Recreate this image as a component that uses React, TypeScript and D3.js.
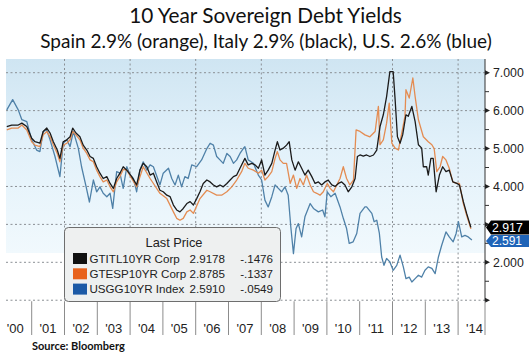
import React from "react";
import * as d3 from "d3";

type Pt = [number, number];

const title = "10 Year Sovereign Debt Yields";
const subtitle = "Spain 2.9% (orange), Italy 2.9% (black), U.S. 2.6% (blue)";
const source = "Source:  Bloomberg";

const years = d3.range(2000, 2015);
const yearLabels = years.map((yr) => "'" + String(yr).slice(2));
const yMajor = [1, 2, 3, 4, 5, 6, 7];
const yLabelled = [2, 4, 5, 6, 7];
const yMinor = [1.5, 2.5, 3.5, 4.5, 5.5, 6.5];

const italy: Pt[] = [
  [2000.24, 5.58], [2000.39, 5.62], [2000.59, 5.62], [2000.7, 5.67], [2000.85, 5.58], [2001.0, 5.27], [2001.1, 5.18],
  [2001.25, 5.14], [2001.35, 5.45], [2001.46, 5.54], [2001.56, 5.41], [2001.66, 5.18], [2001.78, 4.96], [2001.86, 4.74],
  [2001.96, 5.18], [2002.07, 5.23], [2002.17, 5.31], [2002.25, 5.54], [2002.35, 5.41], [2002.47, 5.31], [2002.57, 5.09],
  [2002.68, 4.96], [2002.78, 4.79], [2002.88, 4.74], [2002.98, 4.52], [2003.08, 4.35], [2003.18, 4.21], [2003.29, 4.26],
  [2003.39, 4.08], [2003.49, 3.95], [2003.59, 4.21], [2003.69, 4.35], [2003.79, 4.52], [2003.9, 4.43], [2004.05, 4.26],
  [2004.2, 4.04], [2004.3, 4.43], [2004.4, 4.61], [2004.51, 4.52], [2004.61, 4.3], [2004.71, 4.35], [2004.81, 4.12],
  [2004.91, 3.9], [2005.01, 3.86], [2005.12, 3.77], [2005.22, 3.73], [2005.32, 3.51], [2005.42, 3.38], [2005.52, 3.33],
  [2005.62, 3.42], [2005.73, 3.55], [2005.83, 3.6], [2005.93, 3.51], [2006.03, 3.68], [2006.13, 3.86], [2006.23, 4.08],
  [2006.34, 4.17], [2006.44, 4.12], [2006.54, 4.04], [2006.64, 3.99], [2006.74, 4.04], [2006.84, 3.99], [2006.95, 4.08],
  [2007.05, 4.17], [2007.15, 4.26], [2007.25, 4.3], [2007.35, 4.48], [2007.5, 4.74], [2007.6, 4.57], [2007.71, 4.61],
  [2007.81, 4.57], [2007.91, 4.48], [2008.01, 4.7], [2008.11, 4.3], [2008.21, 4.43], [2008.32, 4.61], [2008.42, 4.96],
  [2008.49, 5.18], [2008.57, 4.96], [2008.67, 5.01], [2008.77, 5.09], [2008.85, 5.18], [2008.93, 4.7], [2009.03, 4.43],
  [2009.13, 4.65], [2009.23, 4.48], [2009.33, 4.3], [2009.43, 4.43], [2009.54, 4.26], [2009.64, 4.08], [2009.74, 4.12],
  [2009.84, 4.04], [2009.94, 4.12], [2010.04, 4.17], [2010.15, 4.04], [2010.25, 4.0], [2010.35, 4.08], [2010.45, 4.12],
  [2010.55, 4.04], [2010.65, 3.86], [2010.76, 3.99], [2010.86, 4.21], [2010.93, 4.79], [2011.01, 4.83], [2011.11, 4.8],
  [2011.21, 4.83], [2011.31, 4.79], [2011.42, 4.83], [2011.52, 4.96], [2011.62, 5.58], [2011.72, 5.89], [2011.82, 6.37],
  [2011.92, 7.03], [2012.02, 7.03], [2012.08, 6.29], [2012.15, 5.31], [2012.23, 5.14], [2012.31, 5.36], [2012.41, 5.89],
  [2012.48, 5.85], [2012.59, 6.11], [2012.69, 5.71], [2012.79, 5.1], [2012.89, 5.01], [2012.94, 4.52], [2013.04, 4.52],
  [2013.09, 4.3], [2013.17, 4.74], [2013.24, 4.74], [2013.33, 3.86], [2013.43, 4.3], [2013.53, 4.52], [2013.63, 4.39],
  [2013.73, 4.43], [2013.84, 4.12], [2013.96, 4.08], [2014.04, 4.04], [2014.16, 3.6], [2014.26, 3.29], [2014.39, 2.92],
];

const spain: Pt[] = [
  [2000.24, 5.49], [2000.39, 5.54], [2000.59, 5.54], [2000.7, 5.62], [2000.85, 5.49], [2001.0, 5.18], [2001.1, 5.09],
  [2001.25, 5.05], [2001.35, 5.36], [2001.46, 5.45], [2001.56, 5.31], [2001.66, 5.1], [2001.78, 4.87], [2001.86, 4.65],
  [2001.96, 5.09], [2002.07, 5.14], [2002.17, 5.23], [2002.25, 5.45], [2002.35, 5.36], [2002.47, 5.23], [2002.57, 5.01],
  [2002.68, 4.87], [2002.78, 4.7], [2002.88, 4.65], [2002.98, 4.43], [2003.08, 4.26], [2003.18, 4.12], [2003.29, 4.17],
  [2003.39, 3.99], [2003.49, 3.86], [2003.59, 4.12], [2003.69, 4.26], [2003.79, 4.45], [2003.9, 4.43], [2004.2, 3.99],
  [2004.4, 4.52], [2004.61, 4.21], [2004.91, 3.82], [2005.12, 3.68], [2005.32, 3.33], [2005.42, 3.16], [2005.52, 3.11],
  [2005.62, 3.16], [2005.73, 3.33], [2005.83, 3.38], [2005.93, 3.29], [2006.13, 3.68], [2006.34, 3.9], [2006.44, 3.86],
  [2006.64, 3.77], [2006.79, 3.77], [2006.95, 3.86], [2007.1, 3.99], [2007.25, 4.17], [2007.4, 4.39], [2007.5, 4.61],
  [2007.6, 4.48], [2007.76, 4.43], [2007.91, 4.35], [2008.01, 4.43], [2008.11, 4.17], [2008.21, 4.26], [2008.32, 4.39],
  [2008.42, 4.74], [2008.49, 4.92], [2008.57, 4.7], [2008.67, 4.61], [2008.77, 4.61], [2008.88, 4.08], [2008.98, 4.3],
  [2009.08, 3.95], [2009.18, 4.21], [2009.28, 4.04], [2009.38, 4.3], [2009.49, 4.04], [2009.59, 3.86], [2009.69, 3.82],
  [2009.79, 3.77], [2009.89, 3.86], [2010.01, 4.08], [2010.1, 3.95], [2010.2, 3.86], [2010.3, 4.04], [2010.4, 4.21],
  [2010.5, 4.52], [2010.6, 4.21], [2010.7, 4.04], [2010.81, 4.17], [2010.89, 5.49], [2011.01, 5.45], [2011.16, 5.36],
  [2011.31, 5.31], [2011.47, 5.45], [2011.57, 6.11], [2011.62, 5.1], [2011.72, 5.23], [2011.82, 5.67], [2011.9, 6.2],
  [2011.98, 5.14], [2012.08, 5.01], [2012.18, 4.96], [2012.28, 5.4], [2012.38, 5.85], [2012.41, 6.55], [2012.51, 6.33],
  [2012.62, 6.86], [2012.69, 6.37], [2012.79, 5.76], [2012.94, 5.31], [2013.09, 5.18], [2013.2, 5.1], [2013.27, 5.0],
  [2013.35, 4.39], [2013.45, 4.52], [2013.53, 4.79], [2013.63, 4.7], [2013.73, 4.48], [2013.84, 4.12], [2013.96, 4.08],
  [2014.04, 4.08], [2014.16, 3.55], [2014.26, 3.24], [2014.39, 2.88],
];

const us: Pt[] = [
  [2000.24, 6.02], [2000.42, 6.29], [2000.59, 6.02], [2000.7, 5.76], [2000.85, 5.71], [2001.0, 5.23], [2001.15, 4.96],
  [2001.25, 4.92], [2001.35, 5.45], [2001.46, 5.49], [2001.56, 5.23], [2001.71, 4.79], [2001.86, 4.26], [2001.96, 5.14],
  [2002.07, 5.23], [2002.17, 5.05], [2002.27, 5.45], [2002.42, 5.01], [2002.52, 4.52], [2002.66, 3.99], [2002.76, 3.59],
  [2002.88, 4.17], [2002.98, 3.86], [2003.08, 3.99], [2003.18, 3.82], [2003.29, 3.73], [2003.39, 3.82], [2003.47, 3.42],
  [2003.59, 4.39], [2003.69, 4.35], [2003.79, 3.95], [2003.9, 4.52], [2004.0, 4.3], [2004.1, 4.21], [2004.2, 3.86],
  [2004.3, 4.43], [2004.4, 4.65], [2004.51, 4.43], [2004.61, 4.57], [2004.71, 4.52], [2004.91, 4.04], [2005.01, 4.35],
  [2005.17, 4.48], [2005.27, 4.21], [2005.37, 4.04], [2005.47, 4.3], [2005.57, 3.99], [2005.67, 4.26], [2005.77, 4.21],
  [2005.88, 4.57], [2006.03, 4.52], [2006.18, 4.7], [2006.34, 5.0], [2006.44, 5.14], [2006.54, 5.09], [2006.64, 4.79],
  [2006.74, 4.7], [2006.84, 4.61], [2006.95, 4.87], [2007.05, 4.79], [2007.15, 4.61], [2007.25, 4.7], [2007.35, 4.87],
  [2007.45, 5.0], [2007.5, 5.05], [2007.6, 4.7], [2007.76, 4.61], [2007.91, 4.3], [2008.01, 4.17], [2008.11, 3.64],
  [2008.21, 3.46], [2008.32, 3.73], [2008.42, 4.04], [2008.52, 3.95], [2008.62, 3.86], [2008.72, 3.99], [2008.82, 3.77],
  [2008.9, 2.93], [2008.98, 2.23], [2009.06, 2.89], [2009.13, 3.02], [2009.23, 2.67], [2009.33, 3.2], [2009.49, 3.55],
  [2009.59, 3.42], [2009.74, 3.33], [2009.87, 3.38], [2009.94, 3.2], [2010.01, 3.86], [2010.12, 3.73], [2010.25, 3.82],
  [2010.4, 3.46], [2010.5, 3.16], [2010.6, 2.89], [2010.68, 2.5], [2010.8, 2.54], [2010.91, 2.76], [2011.01, 3.29],
  [2011.16, 3.46], [2011.21, 3.46], [2011.37, 3.29], [2011.44, 3.07], [2011.52, 3.11], [2011.6, 2.76], [2011.67, 2.14],
  [2011.74, 1.92], [2011.82, 2.1], [2011.92, 2.01], [2012.02, 1.79], [2012.13, 1.92], [2012.23, 2.19], [2012.33, 1.88],
  [2012.41, 1.57], [2012.51, 1.61], [2012.59, 1.48], [2012.69, 1.57], [2012.79, 1.66], [2012.89, 1.61], [2012.99, 1.79],
  [2013.09, 1.88], [2013.2, 1.84], [2013.3, 1.7], [2013.4, 2.14], [2013.5, 2.45], [2013.63, 2.8], [2013.73, 2.67],
  [2013.85, 2.54], [2013.94, 2.76], [2014.01, 3.07], [2014.11, 2.67], [2014.21, 2.71], [2014.31, 2.67], [2014.42, 2.59],
];

const legendNames = ["GTITL10YR Corp", "GTESP10YR Corp", "USGG10YR Index"];
const legendLast = ["2.9178", "2.8785", "2.5910"];
const legendChange = ["-.1476", "-.1337", "-.0549"];
const lastLabels = ["2.917", "2.591"];
const lastValues = [2.917, 2.591];

export default function App() {
  const W = 529;
  const H = 354;
  const x = d3.scaleLinear().domain([2000, 2014]).range([-1.1, 458.1]);
  const y = d3.scaleLinear().domain([7, 2]).range([72.7, 262.3]);
  const left = 6;
  const right = 485;
  const top = 59;
  const bottom = y(1) + 1;
  const blueBottom = 253;
  const line = d3
    .line<Pt>()
    .x((d) => x(d[0]))
    .y((d) => y(d[1]));

  const axisFont = "'Liberation Sans', Arial, sans-serif";
  const titleFont = "Lato, 'Open Sans', sans-serif";

  const gridYears = [2002, 2004, 2006, 2008, 2010, 2012, 2014];
  const swatch = ["#111111", "#e8621c", "#1c5aa6"];

  // last-value boxes: black one centred on its value, blue one stacked just below it
  const blackCy = y(lastValues[0]);
  const blueCy = Math.max(y(lastValues[1]), blackCy + 13.5);

  return (
    <svg width={W} height={H} style={{ position: "absolute", left: 0, top: 0, background: "#fff" }}>
      <defs>
        <linearGradient id="bg" x1="0" y1="0" x2="0" y2="1">
          <stop offset="0" stopColor="#cfe5f2" />
          <stop offset="0.45" stopColor="#e2f1fa" />
          <stop offset="1" stopColor="#f1f9fd" />
        </linearGradient>
        <clipPath id="clip">
          <rect x={left} y={top} width={right - left} height={bottom - top} />
        </clipPath>
      </defs>
      <rect x={0} y={0} width={W} height={H} fill="#fff" />
      <text x={265.5} y={22.5} textAnchor="middle" fontFamily={titleFont} fontSize={20.8} fill="#111">
        {title}
      </text>
      <text x={266} y={47.5} textAnchor="middle" fontFamily={titleFont} fontSize={19} fill="#111">
        {subtitle}
      </text>

      <rect x={left} y={top} width={right - left} height={blueBottom - top} fill="url(#bg)" />

      {yMajor.map((v) => (
        <line key={"gy" + v} x1={left} x2={right} y1={y(v)} y2={y(v)} stroke="#8a8f94" strokeWidth={1} strokeDasharray="2,2.5" />
      ))}
      {gridYears.map((yr) => (
        <line key={"gx" + yr} x1={x(yr)} x2={x(yr)} y1={top} y2={bottom} stroke="#8a8f94" strokeWidth={1} strokeDasharray="2,2.5" />
      ))}

      <g clipPath="url(#clip)" fill="none" strokeLinejoin="round">
        <path d={line(us) || ""} stroke="#4f81a8" strokeWidth={1.3} />
        <path d={line(spain) || ""} stroke="#e48c52" strokeWidth={1.3} />
        <path d={line(italy) || ""} stroke="#1b1b1b" strokeWidth={1.3} />
      </g>

      {/* right axis */}
      <line x1={right} x2={right} y1={top} y2={bottom} stroke="#333" strokeWidth={1} />
      {yMajor.map((v) => (
        <path key={"tri" + v} d={`M${right},${y(v) - 2.5} L${right + 5},${y(v)} L${right},${y(v) + 2.5} Z`} fill="#222" />
      ))}
      {yMinor.map((v) => (
        <line key={"mn" + v} x1={right} x2={right + 4} y1={y(v)} y2={y(v)} stroke="#333" strokeWidth={1} />
      ))}
      {yLabelled.map((v) => (
        <text key={"yl" + v} x={493} y={y(v) + 4.3} fontFamily={axisFont} fontSize={12.3} fill="#222">
          {d3.format(".3f")(v)}
        </text>
      ))}

      {/* last value labels */}
      <g>
        <path d={`M${right + 1},${blueCy} L${right + 6},${blueCy - 6} H${W} V${blueCy + 6} H${right + 6} Z`} fill="#1f64b8" />
        <text x={492} y={blueCy + 4.2} fontFamily={axisFont} fontSize={12} fill="#fff">
          {lastLabels[1]}
        </text>
        <path d={`M${right + 1},${blackCy} L${right + 6},${blackCy - 7} H${W} V${blackCy + 7} H${right + 6} Z`} fill="#000" />
        <text x={492} y={blackCy + 4.3} fontFamily={axisFont} fontSize={12.3} fill="#fff">
          {lastLabels[0]}
        </text>
      </g>

      {/* x axis */}
      {years.slice(1).map((yr) => (
        <line key={"xt" + yr} x1={x(yr)} x2={x(yr)} y1={bottom} y2={335} stroke="#8c8c8c" strokeWidth={1} />
      ))}
      <line x1={right} x2={right} y1={bottom} y2={335} stroke="#8c8c8c" strokeWidth={1} />
      {years.map((yr, i) => (
        <text key={"xl" + yr} x={x(yr + 0.5)} y={333} textAnchor="middle" fontFamily={axisFont} fontSize={13} fill="#222">
          {yearLabels[i]}
        </text>
      ))}

      {/* legend */}
      <rect x={64.5} y={227.5} width={216} height={74} rx={4} fill="#eef0f0" stroke="#6e6e6e" strokeWidth={1} />
      <text x={174} y={247} textAnchor="middle" fontFamily={axisFont} fontSize={12.8} fill="#222">
        Last Price
      </text>
      {legendNames.map((n, i) => {
        const cy = 258.5 + i * 15.3;
        return (
          <g key={"lg" + i}>
            <rect x={73} y={cy - 5.5} width={14} height={11} fill={swatch[i]} />
            <text x={89.5} y={cy + 4.2} fontFamily={axisFont} fontSize={11.6} fill="#222">
              {n}
            </text>
            <text x={225} y={cy + 4.2} textAnchor="end" fontFamily={axisFont} fontSize={11.6} fill="#222">
              {legendLast[i]}
            </text>
            <text x={273} y={cy + 4.2} textAnchor="end" fontFamily={axisFont} fontSize={11.6} fill="#222">
              {legendChange[i]}
            </text>
          </g>
        );
      })}

      <text x={32} y={349.5} fontFamily={titleFont} fontWeight="bold" fontSize={11} fill="#111">
        {source}
      </text>
    </svg>
  );
}
